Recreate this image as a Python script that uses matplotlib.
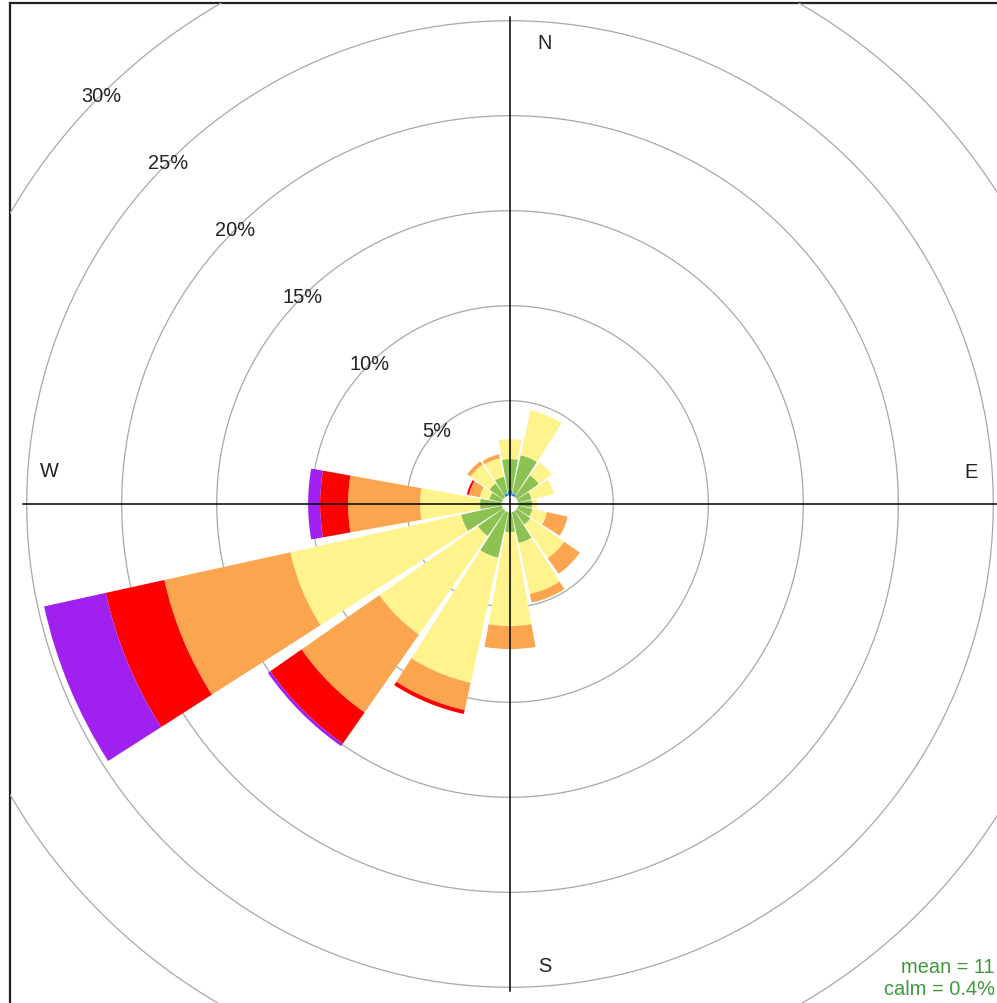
import numpy as np
import matplotlib.pyplot as plt
from matplotlib.transforms import offset_copy

plt.rcParams['font.family'] = ['Liberation Sans', 'DejaVu Sans']

# wind direction sectors (degrees) and frequency (%) per speed class
directions = [0, 22.5, 45, 67.5, 90, 112.5, 135, 157.5,
              180, 202.5, 225, 247.5, 270, 292.5, 315, 337.5]
ws_0_2 = [0.25, 0.14, 0, 0, 0, 0, 0, 0, 0, 0, 0, 0, 0, 0, 0, 0.14]
ws_2_4 = [1.68, 2.05, 1.41, 0.72, 0.72, 0.77, 0.88, 1.67,
          1.04, 2.46, 1.62, 2.19, 1.14, 0.67, 0.88, 0.89]
ws_4_6 = [1.05, 2.42, 0.84, 1.21, 0.26, 0.79, 2.16, 2.74,
          4.95, 6.74, 6.32, 9.21, 3.16, 0.53, 1.21, 1.00]
ws_6_10 = [0, 0, 0, 0, 0, 1.11, 1.00, 0.47,
           1.21, 1.47, 5.00, 6.79, 3.79, 0.58, 0.21, 0.21]
ws_10_15 = [0, 0, 0, 0, 0, 0, 0, 0,
            0, 0.21, 2.00, 3.16, 1.47, 0.11, 0, 0]
ws_15_up = [0, 0, 0, 0, 0, 0, 0, 0,
            0, 0, 0.16, 3.32, 0.63, 0, 0, 0]
speed_cols = ['#2F86DC', '#8DC152', '#FFF38E', '#FBA54F', '#FF0000', '#A020F0']

rings = [5, 10, 15, 20, 25, 30]
mean_ws = 11
calm = 0.4

W, H = 997, 1004
px = 19.0          # pixels per percent
hole = 8.3 / px    # white hole in the middle
cx, cy = 510, H - 505
R = 720

fig = plt.figure(figsize=(W / 100, H / 100), dpi=100)

# square panel frame (right/bottom edges fall off the page)
frame = fig.add_axes([10 / W, -2 / H, 1000 / W, 1002 / H])
frame.set_xticks([])
frame.set_yticks([])
for s in frame.spines.values():
    s.set_linewidth(1.6)
    s.set_color('#222222')
frame.set_zorder(0)

ax = fig.add_axes([(cx - R) / W, (cy - R) / H, 2 * R / W, 2 * R / H],
                  projection='polar')
ax.set_zorder(1)
ax.patch.set_visible(False)
ax.set_theta_zero_location('N')
ax.set_theta_direction(-1)
ax.set_ylim(0, R / px)
ax.grid(False)
ax.set_xticks([])
ax.set_yticks([])
ax.spines['polar'].set_visible(False)

# rings
tt = np.linspace(0, 2 * np.pi, 721)
for rv in rings:
    ln, = ax.plot(tt, np.full_like(tt, hole + rv), color='#A8A8A8', lw=0.9, zorder=1)
    ln.set_clip_path(frame.patch)
    ax.text(np.deg2rad(315), hole + rv, f'{rv}%', ha='center', va='center',
            fontsize=14.4, color='#222222', zorder=5)

# stacked petals
theta = np.deg2rad(directions)
base = np.full(len(directions), hole)
for vals, col in zip([ws_0_2, ws_2_4, ws_4_6, ws_6_10, ws_10_15, ws_15_up], speed_cols):
    vals = np.array(vals)
    ax.bar(theta, vals, width=np.deg2rad(20.2), bottom=base, color=col,
           edgecolor='none', linewidth=0, zorder=2)
    base = base + vals

# axis cross
rl = 487 / px
ax.plot([0, np.pi], [rl, rl], color='black', lw=1.1, zorder=4)
ax.plot([np.pi / 2, 3 * np.pi / 2], [rl, rl], color='black', lw=1.1, zorder=4)

# compass labels
rlab = 461 / px
for ang, lab, dx, dy in [(0, 'N', 35, 0), (90, 'E', 0, 32),
                         (180, 'S', 35, 0), (270, 'W', 0, 33)]:
    tr = offset_copy(ax.transData, fig=fig, x=dx, y=dy, units='dots')
    ax.text(np.deg2rad(ang), rlab, lab, transform=tr, ha='center', va='center',
            fontsize=14.4, color='#222222', zorder=5)

fig.text(995 / W, 1 - 968 / H, f'mean = {mean_ws}', ha='right', va='center',
         fontsize=14.4, color='#3C9A3C')
fig.text(995 / W, 1 - 990 / H, f'calm = {calm}%', ha='right', va='center',
         fontsize=14.4, color='#3C9A3C')

fig.savefig('out.png', dpi=100)
